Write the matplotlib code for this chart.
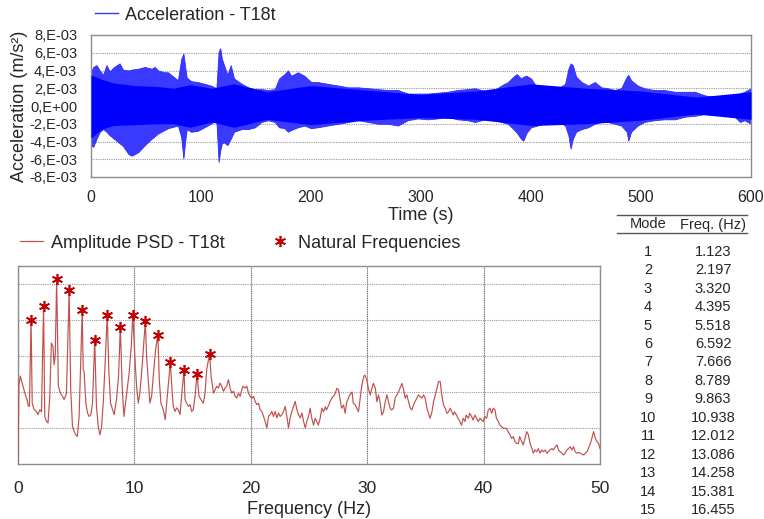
import numpy as np
import matplotlib
matplotlib.use("Agg")
import matplotlib.pyplot as plt
from matplotlib.lines import Line2D

plt.rcParams["font.family"] = ["Liberation Sans", "DejaVu Sans"]
TXT = "#262626"

# ---- acceleration record (envelope of the T18t channel, in 1e-3 m/s^2) ----
acc_time = [0, 2, 5, 8, 11, 14, 17, 21, 26, 29, 34, 37, 43, 49, 55, 58, 61, 64, 67, 70,
            73, 79, 82, 84, 85.5, 87, 91, 97, 103, 109, 114, 116, 117.5, 119, 121, 124,
            127, 130, 137, 143, 149, 155, 161, 167, 171, 176, 179, 182, 188, 194, 200,
            206, 215, 225, 234, 243, 252, 261, 270, 279, 288, 297, 306, 315, 324, 333,
            342, 349, 355, 361, 367, 373, 379, 384, 387, 391, 393, 396, 400, 406, 415,
            425, 431, 434, 436, 438, 441, 446, 452, 458, 464, 470, 476, 482, 487, 488.5,
            491, 497, 503, 512, 521, 531, 540, 549, 558, 567, 576, 585, 590, 594, 600]
acc_upper = [3.8, 4.4, 4.6, 4.0, 3.5, 4.6, 3.9, 4.4, 4.8, 4.1, 4.0, 4.1, 4.2, 4.4, 4.2,
             4.4, 4.0, 3.9, 3.8, 3.8, 3.5, 2.9, 5.3, 5.9, 4.5, 3.2, 2.8, 2.7, 2.5, 2.3,
             2.0, 6.1, 6.5, 5.3, 4.6, 3.5, 4.6, 3.1, 2.5, 2.1, 1.9, 1.9, 1.8, 1.9, 3.1,
             3.6, 4.0, 3.4, 3.8, 3.4, 2.7, 2.7, 2.5, 2.3, 2.1, 2.1, 2.0, 1.9, 1.8, 1.8,
             1.4, 1.4, 1.4, 1.5, 1.6, 1.8, 1.9, 2.0, 1.8, 1.6, 1.8, 2.3, 2.7, 3.3, 3.6,
             3.1, 3.3, 3.4, 3.1, 2.0, 1.8, 2.0, 2.5, 4.2, 4.8, 4.6, 3.3, 2.7, 2.3, 2.7,
             2.1, 2.0, 1.8, 2.0, 3.3, 3.5, 2.9, 2.3, 2.0, 1.8, 1.8, 1.6, 1.6, 1.6, 1.2,
             1.0, 1.0, 1.2, 1.4, 1.6, 2.0]
acc_lower = [-4.4, -4.6, -3.7, -2.9, -2.6, -2.9, -3.3, -3.7, -4.2, -4.5, -5.4, -5.6, -5.2,
             -4.4, -3.7, -3.4, -3.1, -2.9, -2.7, -2.5, -2.4, -2.2, -3.5, -5.9, -4.1, -2.6,
             -2.9, -2.8, -2.4, -2.0, -1.6, -6.3, -5.0, -4.2, -4.1, -4.4, -3.7, -2.9, -2.6,
             -2.6, -2.4, -1.8, -1.6, -1.8, -2.4, -2.5, -2.9, -2.7, -2.4, -2.2, -2.5, -2.4,
             -2.2, -2.0, -1.8, -1.6, -1.8, -2.0, -2.0, -2.2, -1.6, -1.4, -1.5, -1.4, -1.2,
             -1.5, -1.6, -1.8, -1.6, -1.4, -1.5, -1.8, -2.0, -2.6, -3.0, -3.7, -3.9, -3.0,
             -2.4, -2.2, -1.8, -1.7, -2.2, -3.3, -4.8, -3.7, -2.9, -2.6, -2.4, -2.0, -1.8,
             -1.8, -2.0, -2.2, -2.9, -3.9, -2.9, -2.2, -1.8, -1.6, -1.5, -1.5, -1.2, -1.1,
             -0.9, -0.9, -1.1, -1.2, -1.8, -1.6, -2.0]

# dense core of the oscillation (1e-3 m/s^2)
core_time = [0, 10, 20, 40, 60, 75, 90, 110, 130, 160, 200, 250, 300, 350, 400, 450, 500, 550, 600]
core_upper = [3.5, 3.0, 2.6, 2.3, 2.2, 2.0, 2.4, 2.0, 2.5, 1.6, 2.3, 1.8, 1.3, 1.7, 2.5, 2.0, 1.7, 1.0, 1.6]
core_lower = [-3.6, -2.6, -2.2, -2.1, -2.0, -2.0, -2.4, -1.8, -2.4, -1.5, -2.1, -1.6, -1.3, -1.5,
              -2.2, -2.0, -1.6, -0.9, -1.5]

acc_ticks = [8e-3, 6e-3, 4e-3, 2e-3, 0, -2e-3, -4e-3, -6e-3, -8e-3]
acc_tick_labels = ["8,E-03", "6,E-03", "4,E-03", "2,E-03", "0,E+00",
                   "-2,E-03", "-4,E-03", "-6,E-03", "-8,E-03"]
time_ticks = [0, 100, 200, 300, 400, 500, 600]

# ---- amplitude PSD (relative units) ----
psd_freq = [0.0, 0.08, 0.2, 0.43, 0.57, 0.77, 0.88, 0.98, 1.123, 1.22, 1.38, 1.58, 1.72, 1.87,
            2.02, 2.197, 2.3, 2.44, 2.58, 2.73, 2.87, 3.01, 3.1, 3.2, 3.320, 3.47, 3.64, 3.82,
            3.96, 4.16, 4.395, 4.53, 4.68, 4.82, 4.96, 5.1, 5.25, 5.518, 5.6, 5.68, 5.83, 5.97,
            6.11, 6.26, 6.4, 6.592, 6.74, 6.89, 7.03, 7.17, 7.32, 7.46, 7.666, 7.8, 7.95, 8.12,
            8.26, 8.46, 8.64, 8.789, 8.95, 9.1, 9.24, 9.38, 9.55, 9.73, 9.863, 10.07, 10.19,
            10.33, 10.47, 10.62, 10.938, 11.05, 11.19, 11.33, 11.48, 11.62, 11.82, 12.012,
            12.14, 12.28, 12.48, 12.65, 12.83, 13.086, 13.23, 13.34, 13.49, 13.63, 13.77,
            13.92, 14.258, 14.35, 14.49, 14.63, 14.78, 14.92, 15.06, 15.21, 15.381, 15.55,
            15.72, 15.92, 16.07, 16.21, 16.455, 16.59, 16.79, 16.93, 17.07, 17.22, 17.36,
            17.5, 17.65, 17.79, 17.93, 18.08, 18.22, 18.36, 18.51, 18.65, 18.79, 18.94,
            19.08, 19.31, 19.51, 19.66, 19.8, 19.94, 20.09, 20.23, 20.37, 20.52, 20.66,
            20.8, 20.95, 21.09, 21.23, 21.38, 21.52, 21.66, 21.81, 21.95, 22.09, 22.24,
            22.38, 22.52, 22.67, 22.81, 22.95, 23.1, 23.24, 23.38, 23.53, 23.67, 23.81,
            23.96, 24.1, 24.25, 24.39, 24.53, 24.68, 24.82, 24.96, 25.1, 25.24, 25.39,
            25.53, 25.67, 25.8, 25.96, 26.1, 26.25, 26.4, 26.5, 26.7, 26.8, 26.96, 27.2,
            27.4, 27.54, 27.7, 27.8, 27.97, 28.1, 28.25, 28.4, 28.5, 28.7, 28.8, 28.97,
            29.1, 29.25, 29.4, 29.54, 29.7, 29.8, 29.97, 30.1, 30.26, 30.4, 30.54, 30.7,
            30.83, 30.97, 31.1, 31.26, 31.4, 31.55, 31.7, 31.83, 31.98, 32.1, 32.26, 32.4,
            32.7, 32.98, 33.1, 33.27, 33.4, 33.55, 33.7, 33.84, 33.98, 34.1, 34.27, 34.4,
            34.56, 34.7, 34.84, 34.98, 35.13, 35.27, 35.4, 35.56, 35.7, 35.85, 35.99, 36.13,
            36.27, 36.4, 36.56, 36.7, 36.85, 36.99, 37.13, 37.28, 37.4, 37.5, 37.67, 37.8,
            37.96, 38.1, 38.25, 38.4, 38.5, 38.7, 38.8, 38.97, 39.1, 39.25, 39.4, 39.54,
            39.7, 39.83, 39.97, 40.1, 40.26, 40.4, 40.55, 40.7, 40.83, 40.98, 41.1, 41.26,
            41.4, 41.55, 41.7, 41.84, 41.98, 42.1, 42.27, 42.4, 42.56, 42.7, 42.84, 42.99,
            43.1, 43.28, 43.4, 43.56, 43.7, 43.85, 43.99, 44.1, 44.28, 44.4, 44.57, 44.7,
            44.86, 45.0, 45.14, 45.29, 45.43, 45.57, 45.7, 45.86, 46.0, 46.15, 46.3, 46.44,
            46.57, 46.72, 46.87, 47.0, 47.15, 47.3, 47.44, 47.59, 47.73, 47.87, 48.0, 48.16,
            48.3, 48.45, 48.6, 48.74, 48.88, 49.0, 49.17, 49.3, 49.45, 49.6, 49.74, 49.88, 50.0]
psd_amp = [0.0, 2.2, 2.44, 2.16, 1.99, 1.79, 1.62, 1.6, 4.01, 1.69, 1.51, 1.46, 1.37, 1.51,
           1.45, 4.40, 1.32, 1.19, 1.14, 1.88, 3.36, 3.27, 2.76, 3.0, 5.14, 2.16, 1.97, 1.88,
           1.79, 1.95, 4.82, 2.06, 1.05, 0.91, 0.81, 0.77, 1.32, 4.27, 2.62, 2.57, 1.69, 1.42,
           1.32, 1.37, 1.69, 3.44, 1.6, 1.05, 0.81, 1.0, 1.69, 2.62, 4.15, 2.62, 1.69, 1.51,
           1.37, 1.79, 2.44, 3.81, 2.16, 1.32, 1.69, 2.06, 2.53, 3.27, 4.15, 2.8, 2.16,
           1.69, 1.97, 2.53, 3.96, 2.99, 2.34, 1.69, 1.88, 2.44, 3.18, 3.58,
           2.34, 1.69, 1.51, 1.23, 1.88, 2.83, 2.06, 1.6, 1.46, 1.56, 1.51,
           1.37, 2.62, 1.79, 1.69, 1.6, 1.65, 1.46, 1.51, 1.88, 2.49, 1.88,
           1.79, 1.69, 1.97, 2.62, 3.06, 2.44, 1.97, 2.06, 2.16, 2.11, 2.25,
           2.16, 2.02, 2.11, 2.16, 2.34, 2.11, 1.97, 2.02, 1.88, 1.83, 1.97,
           1.88, 2.16, 2.11, 2.16, 1.97, 1.88, 1.83, 1.88, 1.74, 1.65, 1.69,
           1.51, 1.46, 1.32, 1.19, 1.0, 1.32, 1.37, 1.46, 1.32, 1.46, 1.28,
           1.42, 1.32, 1.37, 1.46, 1.6, 1.32, 1.0, 1.28, 1.46, 1.6, 1.74,
           1.51, 1.37, 1.28, 1.42, 1.19, 1.0, 1.19, 1.32, 1.55, 1.27, 1.08,
           1.27, 1.18, 1.08, 1.27, 1.55, 1.45, 1.59, 1.5, 1.64, 1.73, 1.83, 1.92,
           2.1, 2.06, 1.73, 1.55, 1.64, 1.41, 1.73, 1.83, 1.92, 2.0, 1.69, 1.64,
           1.55, 1.45, 1.83, 2.19, 2.43, 2.47, 2.33, 2.1, 1.92, 2.1, 2.24, 2.1,
           1.73, 1.92, 1.73, 1.36, 1.45, 1.73, 1.92, 1.73, 1.55, 1.5, 1.55, 1.83,
           2.01, 2.24, 2.1, 1.83, 1.92, 1.73, 1.55, 1.5, 1.64, 1.73, 1.83, 1.92,
           1.87, 1.83, 1.92, 1.83, 1.55, 1.41, 1.27, 1.45, 1.73, 1.92, 2.1, 2.29,
           2.29, 1.92, 1.64, 1.55, 1.41, 1.45, 1.55, 1.45, 1.36, 1.45, 1.36, 1.27,
           1.18, 1.08, 1.27, 1.18, 1.36, 1.27, 1.41, 1.32, 1.22, 1.36, 1.27, 1.18,
           1.27, 1.22, 1.18, 1.32, 1.27, 1.5, 1.55, 1.41, 1.55, 1.5, 1.27, 1.18,
           1.08, 1.04, 0.99, 0.99, 0.99, 0.9, 0.81, 0.71, 0.76, 0.62, 0.57, 0.57,
           0.76, 0.62, 0.53, 0.71, 0.9, 0.81, 0.57, 0.48, 0.3, 0.39, 0.34, 0.43,
           0.3, 0.39, 0.34, 0.39, 0.3, 0.34, 0.39, 0.43, 0.39, 0.48, 0.53, 0.39,
           0.34, 0.3, 0.25, 0.3, 0.39, 0.43, 0.48, 0.39, 0.48, 0.34, 0.3, 0.32,
           0.3, 0.27, 0.25, 0.3, 0.34, 0.43, 0.57, 0.71, 0.9, 0.71, 0.62, 0.57, 0.43]
freq_ticks = [0, 10, 20, 30, 40, 50]

# ---- identified modes ----
modes = list(range(1, 16))
mode_freqs = [1.123, 2.197, 3.320, 4.395, 5.518, 6.592, 7.666, 8.789, 9.863,
              10.938, 12.012, 13.086, 14.258, 15.381, 16.455]

W, H = 764, 519
fig = plt.figure(figsize=(W / 100, H / 100), dpi=100)


def fx(px):
    return px / W


def fy(py):
    return 1 - py / H


# ================= time history =================
ax1 = fig.add_axes([fx(91), fy(177), fx(751) - fx(91), fy(35) - fy(177)])
t = np.asarray(acc_time)
ax1.fill_between(t, np.asarray(acc_lower) * 1e-3, np.asarray(acc_upper) * 1e-3,
                 color="#3a3aff", lw=0.6, edgecolor="#2a2aff", zorder=2)
ax1.fill_between(core_time, np.asarray(core_lower) * 1e-3, np.asarray(core_upper) * 1e-3,
                 color="#0000ff", lw=0, zorder=3)
ax1.set_xlim(0, 600)
ax1.set_ylim(-8e-3, 8e-3)
ax1.set_xticks(time_ticks)
ax1.set_yticks(acc_ticks)
ax1.set_yticklabels(acc_tick_labels)
ax1.tick_params(length=0, labelsize=10.5, colors=TXT, pad=10)
ax1.tick_params(axis="x", labelsize=11.5, pad=9)
ax1.set_axisbelow(True)
ax1.grid(axis="y", color="#9a9a9a", lw=0.8, ls=(0, (1, 1)))
for s in ax1.spines.values():
    s.set_color("#8c8c8c")
    s.set_linewidth(1.0)
ax1.set_xlabel("Time (s)", fontsize=13, color=TXT, labelpad=2)
ax1.set_ylabel("Acceleration (m/s²)", fontsize=13, color=TXT, labelpad=1)
acc_handle = Line2D([], [], color="#3a3adf", lw=1.0)
ax1.legend([acc_handle], ["Acceleration - T18t"], loc="center left",
           bbox_to_anchor=(fx(95), fy(15)), bbox_transform=fig.transFigure,
           frameon=False, borderpad=0, borderaxespad=0, handlelength=1.3,
           handletextpad=0.35, fontsize=13, labelcolor=TXT)

# ================= amplitude PSD =================
ax2 = fig.add_axes([fx(18), fy(464), fx(600) - fx(18), fy(266) - fy(464)])
ax2.plot(psd_freq, psd_amp, color="#c0504d", lw=0.85, zorder=3,
         label="Amplitude PSD - T18t")
mode_amp = np.interp(mode_freqs, psd_freq, psd_amp)
ax2.plot(mode_freqs, mode_amp, ls="none", marker=(6, 2, 0), ms=8, mew=1.2,
         color="#c00000", zorder=4, label="Natural Frequencies")
ax2.set_xlim(0, 50)
ax2.set_ylim(0, 5.5)
ax2.set_xticks(freq_ticks)
ax2.set_yticks([1, 2, 3, 4, 5])
ax2.set_yticklabels([])
ax2.tick_params(length=0, labelsize=12.5, colors=TXT, pad=12)
ax2.set_axisbelow(True)
ax2.grid(axis="y", color="#9a9a9a", lw=0.8, ls=(0, (1, 1)))
ax2.grid(axis="x", color="#6e6e6e", lw=0.8, ls=(0, (1, 0.6)))
for s in ax2.spines.values():
    s.set_color("#8c8c8c")
    s.set_linewidth(1.0)
ax2.set_xlabel("Frequency (Hz)", fontsize=13, color=TXT, labelpad=4)
ax2.legend(loc="center left", bbox_to_anchor=(fx(20), fy(243)),
           bbox_transform=fig.transFigure, ncol=2, frameon=False, borderpad=0,
           borderaxespad=0, handlelength=1.3, handletextpad=0.4,
           columnspacing=2.4, fontsize=13, labelcolor=TXT)

# ================= mode table =================
col_mode, col_freq = 648, 713
fig.add_artist(Line2D([fx(617), fx(747)], [fy(215), fy(215)], color="#555555", lw=1.0))
fig.add_artist(Line2D([fx(617), fx(747)], [fy(233), fy(233)], color="#555555", lw=1.0))
fig.text(fx(col_mode), fy(224.5), "Mode", ha="center", va="center", fontsize=10.5, color=TXT)
fig.text(fx(col_freq), fy(224.5), "Freq. (Hz)", ha="center", va="center", fontsize=10.5, color=TXT)
for i, (m, f) in enumerate(zip(modes, mode_freqs)):
    yy = 251.7 + i * 18.45
    fig.text(fx(col_mode), fy(yy), f"{m}", ha="center", va="center", fontsize=10.5, color=TXT)
    fig.text(fx(col_freq), fy(yy), f"{f:.3f}", ha="center", va="center", fontsize=10.5, color=TXT)

fig.savefig("out.png", dpi=100)
